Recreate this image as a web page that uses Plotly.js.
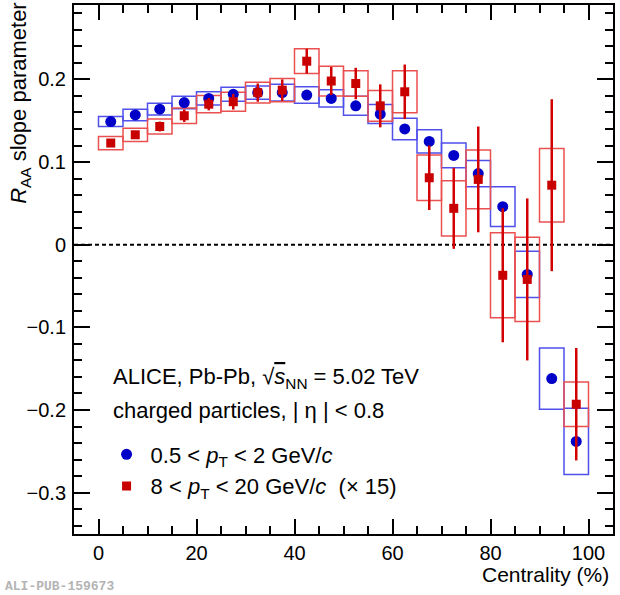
<!DOCTYPE html>
<html>
<head>
<meta charset="utf-8">
<script src="https://cdn.plot.ly/plotly-3.0.1.min.js"></script>
<style>
  html, body { margin: 0; padding: 0; background: #fff; }
  #chart { width: 620px; height: 595px; }
</style>
</head>
<body>
<div id="chart"></div>
<script>
// centrality bins (%), bin centres
var centrality = [2.5, 7.5, 12.5, 17.5, 22.5, 27.5, 32.5, 37.5, 42.5, 47.5,
                  52.5, 57.5, 62.5, 67.5, 72.5, 77.5, 82.5, 87.5, 92.5, 97.5];

// 0.5 < pT < 2 GeV/c
var lowPt = [0.149, 0.157, 0.164, 0.172, 0.177, 0.182, 0.184, 0.184, 0.181, 0.177,
             0.168, 0.158, 0.140, 0.125, 0.108, 0.086, 0.046, -0.036, -0.162, -0.238];
var lowPtSys = [0.006, 0.007, 0.007, 0.0075, 0.008, 0.0085, 0.008, 0.010, 0.010, 0.0105,
                0.0115, 0.0115, 0.013, 0.014, 0.015, 0.016, 0.024, 0.028, 0.037, 0.040];

// 8 < pT < 20 GeV/c, scaled x15
var highPt = [0.123, 0.133, 0.143, 0.156, 0.170, 0.173, 0.184, 0.187, 0.222, 0.198,
              0.195, 0.168, 0.185, 0.081, 0.044, 0.079, -0.037, -0.042, 0.072, -0.193];
var highPtStat = [0.002, 0.003, 0.006, 0.0075, 0.0075, 0.0095, 0.011, 0.013, 0.015, 0.017,
                  0.019, 0.026, 0.033, 0.039, 0.049, 0.064, 0.081, 0.098, 0.104, 0.068];
var highPtSys = [0.008, 0.008, 0.009, 0.0095, 0.0105, 0.0115, 0.0125, 0.014, 0.015, 0.018,
                 0.0155, 0.0185, 0.0255, 0.0275, 0.0335, 0.0355, 0.0515, 0.051, 0.0445, 0.027];

var binWidth = 5;

function sysBoxes(vals, sys, colour) {
  return {
    type: 'bar',
    x: centrality,
    y: sys.map(function (s) { return 2 * s; }),
    base: vals.map(function (v, i) { return v - sys[i]; }),
    width: binWidth,
    marker: { color: 'rgba(0,0,0,0)', line: { color: colour, width: 1.5 } },
    showlegend: false,
    hoverinfo: 'skip'
  };
}

var data = [
  sysBoxes(lowPt, lowPtSys, 'rgb(80,80,235)'),
  sysBoxes(highPt, highPtSys, 'rgb(235,80,80)'),
  {
    type: 'scatter', mode: 'markers',
    x: centrality, y: lowPt,
    name: '0.5 < <i>p</i><sub>T</sub> < 2 GeV/<i>c</i>',
    marker: { symbol: 'circle', size: 11, color: 'rgb(0,0,200)' }
  },
  {
    type: 'scatter', mode: 'markers',
    x: centrality, y: highPt,
    name: '8 < <i>p</i><sub>T</sub> < 20 GeV/<i>c</i>  (× 15)',
    error_y: { type: 'data', array: highPtStat, visible: true, width: 0,
               thickness: 2.5, color: 'rgb(210,0,0)' },
    marker: { symbol: 'square', size: 9, color: 'rgb(200,0,0)' }
  }
];

var axisFont = { family: 'Liberation Sans, Arial, sans-serif', size: 20, color: '#000' };

var layout = {
  width: 620, height: 595,
  margin: { l: 74, r: 7, t: 5, b: 61 },
  paper_bgcolor: '#fff', plot_bgcolor: '#fff',
  barmode: 'overlay',
  font: { family: 'Liberation Sans, Arial, sans-serif', size: 22, color: '#000' },
  xaxis: {
    range: [-5, 105], tick0: 0, dtick: 20,
    ticks: 'inside', ticklen: 15, tickwidth: 2, tickcolor: '#000',
    minor: { dtick: 5, ticks: 'inside', ticklen: 8, tickwidth: 2, tickcolor: '#000' },
    showline: true, linewidth: 2, linecolor: '#000', mirror: 'ticks',
    showgrid: false, zeroline: false, tickfont: axisFont
  },
  yaxis: {
    range: [-0.35, 0.29], tick0: 0, dtick: 0.1,
    ticks: 'inside', ticklen: 16, tickwidth: 2, tickcolor: '#000',
    minor: { dtick: 0.02, ticks: 'inside', ticklen: 8, tickwidth: 2, tickcolor: '#000' },
    showline: true, linewidth: 2, linecolor: '#000', mirror: 'ticks',
    showgrid: false, zeroline: false, tickfont: axisFont, ticklabelstandoff: 2
  },
  shapes: [{
    type: 'line', xref: 'paper', x0: 0, x1: 1, yref: 'y', y0: 0, y1: 0,
    line: { color: '#000', width: 2, dash: '4px,3px' }, layer: 'below'
  }],
  legend: {
    x: 0.053, xanchor: 'left', y: 0.19, yanchor: 'top',
    bgcolor: 'rgba(0,0,0,0)', borderwidth: 0,
    font: { family: 'Liberation Sans, Arial, sans-serif', size: 22, color: '#000' },
    itemwidth: 38
  },
  annotations: [
    {
      xref: 'paper', yref: 'paper', x: 0.068, y: 0.295, xanchor: 'left', yanchor: 'middle',
      showarrow: false,
      text: 'ALICE, Pb-Pb, √<span style="text-decoration:overline"><i>s</i></span><sub>NN</sub> = 5.02 TeV'
    },
    {
      xref: 'paper', yref: 'paper', x: 0.068, y: 0.234, xanchor: 'left', yanchor: 'middle',
      showarrow: false,
      text: 'charged particles, | η | < 0.8'
    },
    {
      xref: 'paper', yref: 'paper', x: -0.1, y: 1.01, xanchor: 'center', yanchor: 'top',
      textangle: -90, showarrow: false, font: { size: 22 },
      text: '<i>R</i><sub>AA</sub> slope parameter'
    },
    {
      xref: 'paper', yref: 'paper', x: 0.996, y: -0.0775, xanchor: 'right', yanchor: 'middle',
      showarrow: false, font: { size: 21 },
      text: 'Centrality (%)'
    },
    {
      xref: 'paper', yref: 'paper', x: -0.132, y: -0.1, xanchor: 'left', yanchor: 'middle',
      showarrow: false,
      font: { family: 'Liberation Mono, DejaVu Sans Mono, monospace', size: 13, color: 'rgb(180,180,180)' },
      text: '<b>ALI-PUB-159673</b>'
    }
  ]
};

Plotly.newPlot('chart', data, layout, { displayModeBar: false, staticPlot: true });
</script>
</body>
</html>
